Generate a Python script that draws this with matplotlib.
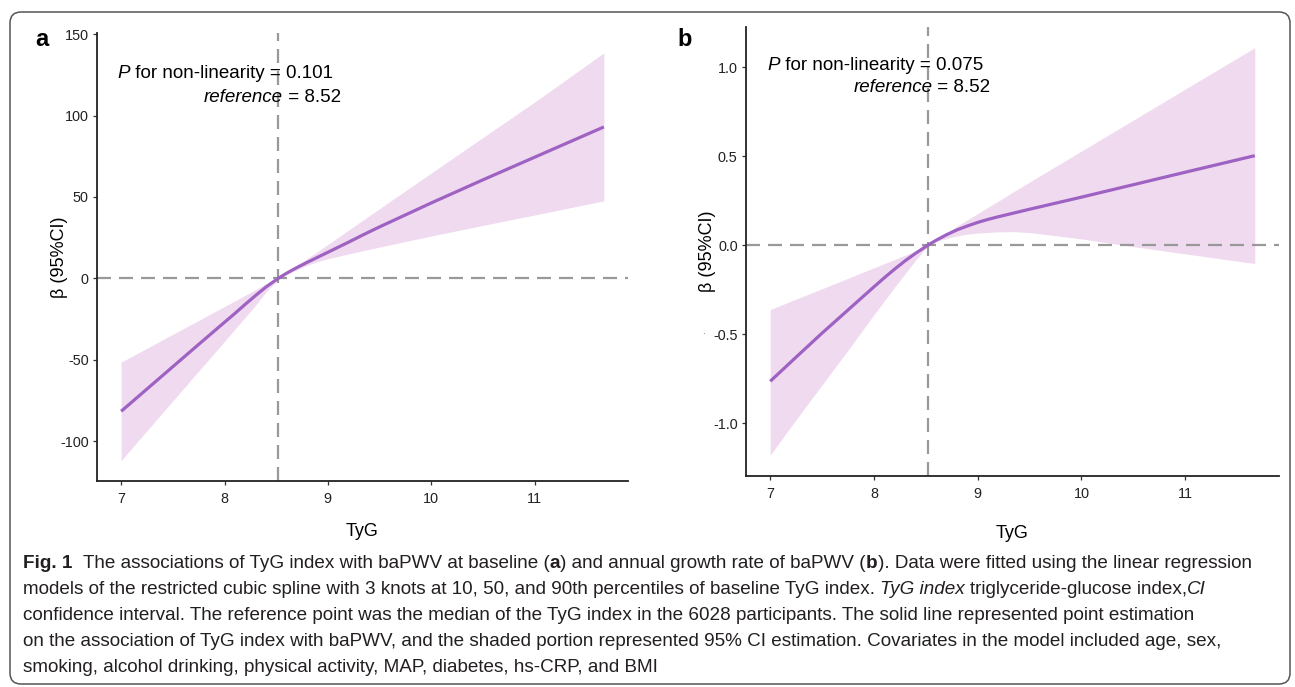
import matplotlib
matplotlib.use("Agg")
import matplotlib.pyplot as plt
from matplotlib.patches import FancyBboxPatch
from matplotlib.transforms import IdentityTransform
from matplotlib.font_manager import FontProperties

# ---------------- data ----------------
tyg = [7.0, 7.25, 7.5, 7.75, 8.0, 8.1, 8.2, 8.3, 8.4, 8.52, 8.6, 8.7, 8.8, 8.9, 9.0, 9.1, 9.2, 9.35, 9.5,
       10.0, 10.5, 11.0, 11.67]

a_beta = [-81.7, -68.0, -54.3, -40.6, -27.0, -21.6, -16.0, -10.6, -5.4, 0.0, 3.1, 6.6, 9.8, 12.9, 16.0, 19.1,
          22.2, 27.0, 31.6, 46.3, 60.5, 74.4, 93.0]
a_upper = [-51.5, -43.0, -34.4, -25.9, -17.3, -13.9, -10.4, -7.0, -3.4, 0.6, 4.0, 8.0, 12.2, 16.4, 20.8, 25.2,
           29.6, 36.2, 42.8, 64.7, 86.5, 108.3, 138.5]
a_lower = [-112.0, -93.6, -75.3, -57.0, -38.7, -31.3, -24.0, -16.6, -8.5, -0.6, 2.3, 5.3, 8.0, 10.3, 12.0, 13.5,
           15.0, 17.1, 19.2, 26.0, 32.5, 38.9, 47.6]

b_beta = [-0.765, -0.629, -0.494, -0.364, -0.234, -0.183, -0.134, -0.088, -0.046, 0.0, 0.028, 0.059, 0.086,
          0.108, 0.128, 0.145, 0.16, 0.181, 0.202, 0.27, 0.34, 0.41, 0.503]
b_upper = [-0.362, -0.303, -0.245, -0.186, -0.127, -0.104, -0.08, -0.057, -0.033, 0.003, 0.033, 0.07, 0.107,
           0.142, 0.178, 0.213, 0.248, 0.302, 0.355, 0.529, 0.703, 0.877, 1.11]
b_lower = [-1.18, -0.98, -0.785, -0.59, -0.39, -0.313, -0.235, -0.16, -0.085, -0.003, 0.02, 0.038, 0.052,
           0.062, 0.068, 0.072, 0.075, 0.076, 0.071, 0.035, -0.008, -0.049, -0.103]

reference = 8.52
p_values = ["0.101", "0.075"]
x_ticks = [7, 8, 9, 10, 11]
a_yticks = [-100, -50, 0, 50, 100, 150]
a_yticklabels = ["-100", "-50", "0", "50", "100", "150"]
b_yticks = [-1.0, -0.5, 0.0, 0.5, 1.0]
b_yticklabels = ["-1.0", "-0.5", "0.0", "0.5", "1.0"]

caption_lines = [
    [("Fig. 1", "bold"), ("  The associations of TyG index with baPWV at baseline (", "normal"), ("a", "bold"),
     (") and annual growth rate of baPWV (", "normal"), ("b", "bold"),
     ("). Data were fitted using the linear regression", "normal")],
    [("models of the restricted cubic spline with 3 knots at 10, 50, and 90th percentiles of baseline TyG index. ", "normal"),
     ("TyG index", "italic"), (" triglyceride-glucose index,", "normal"), ("CI", "italic")],
    [("confidence interval. The reference point was the median of the TyG index in the 6028 participants. The solid line represented point estimation", "normal")],
    [("on the association of TyG index with baPWV, and the shaded portion represented 95% CI estimation. Covariates in the model included age, sex,", "normal")],
    [("smoking, alcohol drinking, physical activity, MAP, diabetes, hs-CRP, and BMI", "normal")],
]

# ---------------- style ----------------
W, H = 1295, 687
LINE_C = "#9E62C2"
BAND_C = "#F0DAF0"
DASH_C = "#999999"
TXT_FONT = ["Liberation Sans", "DejaVu Sans"]
CAP_FONT = ["Liberation Sans Narrow", "Liberation Sans", "DejaVu Sans"]
plt.rcParams["font.family"] = TXT_FONT

fig = plt.figure(figsize=(W / 100, H / 100), dpi=100)


def px_axes(x0, y0, x1, y1):
    return fig.add_axes([x0 / W, 1 - y1 / H, (x1 - x0) / W, (y1 - y0) / H])


ax_a = px_axes(97, 32.5, 628, 481)
ax_b = px_axes(746, 27.3, 1279, 475.5)

panels = [
    (ax_a, a_beta, a_upper, a_lower, a_yticks, a_yticklabels, p_values[0], (6.96, 126.0), (7.80, 110.8),
     (60, 256), (362, 532), "a", (42, 40)),
    (ax_b, b_beta, b_upper, b_lower, b_yticks, b_yticklabels, p_values[1], (6.97, 1.009), (7.80, 0.885),
     (708, 251), (1013, 533), "b", (685, 40)),
]

dash = (0, (6.3, 3.6))
for (ax, beta, up, lo, yt, ytl, pv, t1, t2, ylab_px, xlab_px, letter, let_px) in panels:
    ax.fill_between(tyg, lo, up, color=BAND_C, lw=0, zorder=1)
    ax.plot(tyg, beta, color=LINE_C, lw=2.3, zorder=3, solid_capstyle="butt", solid_joinstyle="round")
    ax.margins(x=0.05, y=0.05)
    ax.axhline(0, color=DASH_C, lw=1.6, ls=dash, zorder=2)
    ax.axvline(reference, color=DASH_C, lw=1.6, ls=dash, zorder=2)
    for s in ["top", "right"]:
        ax.spines[s].set_visible(False)
    for s in ["left", "bottom"]:
        ax.spines[s].set_linewidth(1.3)
        ax.spines[s].set_color("#222222")
    ax.set_xticks(x_ticks)
    ax.set_xticklabels([str(v) for v in x_ticks])
    ax.set_yticks(yt)
    ax.set_yticklabels(ytl)
    ax.tick_params(axis="both", length=3, width=0.9, color="#333333", labelsize=10.4,
                   labelcolor="#222222", pad=3)
    ax.tick_params(axis="x", pad=5)
    pos = ax.get_position()
    ax.set_xlabel("TyG", fontsize=13, va="center")
    ax.xaxis.set_label_coords(0.5, (H - xlab_px[1] - pos.y0 * H) / (pos.height * H))
    ax.set_ylabel("\u03b2 (95%CI)", fontsize=13, va="center")
    ax.yaxis.set_label_coords((ylab_px[0] - pos.x0 * W) / (pos.width * W), 0.5)
    p_txt = ax.text(t1[0], t1[1], "P", fontsize=13.5, style="italic", ha="left", va="center", zorder=5)
    ax.annotate(" for non-linearity = " + pv, xy=(1, 0.5), xycoords=p_txt, fontsize=13.5,
                ha="left", va="center", zorder=5)
    r_txt = ax.text(t2[0], t2[1], "reference", fontsize=13.5, style="italic", ha="left", va="center", zorder=5)
    ax.annotate(" = 8.52", xy=(1, 0.5), xycoords=r_txt, fontsize=13.5,
                ha="left", va="center", zorder=5)
    fig.text(let_px[0] / W, 1 - let_px[1] / H, letter, fontsize=17, fontweight="bold",
             ha="center", va="center")

# stray dot next to -0.5 in panel b
fig.text(703 / W, 1 - 336 / H, ".", fontsize=7, color="#555555", ha="center", va="bottom")

# border
box = FancyBboxPatch((10, 3), 1280, 672, boxstyle="round,pad=0,rounding_size=11",
                     transform=IdentityTransform(), fill=False, ec="#555555", lw=1.1)
fig.add_artist(box)

# ---------------- caption ----------------
fig.canvas.draw()
renderer = fig.canvas.get_renderer()


def fprop(style, size):
    fp = FontProperties(family=CAP_FONT, size=size)
    if style == "bold":
        fp.set_weight("bold")
    elif style == "italic":
        fp.set_style("italic")
    return fp


def adv(s, style, size):
    fp = fprop(style, size)
    w1 = renderer.get_text_width_height_descent("." + s + ".", fp, ismath=False)[0]
    w0 = renderer.get_text_width_height_descent("..", fp, ismath=False)[0]
    return w1 - w0


def line_width(pieces, size):
    return sum(adv(t, st, size) for t, st in pieces)


base = 12.0
target = 1262 - 23
cap_size = base * target / line_width(caption_lines[0], base)

y_centers = [563, 589.5, 615.5, 641.5, 667.5]
for pieces, yc in zip(caption_lines, y_centers):
    x = 23.0
    for t, st in pieces:
        stripped = t.lstrip(" ")
        lead = len(t) - len(stripped)
        if lead:
            x += adv(" " * lead, st, cap_size)
        core = stripped.rstrip(" ")
        trail = len(stripped) - len(core)
        if core:
            fp = fprop(st, cap_size)
            fig.text(x / W, 1 - yc / H, core, fontproperties=fp, color="#231F20",
                     ha="left", va="center")
            x += adv(core, st, cap_size)
        if trail:
            x += adv(" " * trail, st, cap_size)

fig.savefig("out.png", dpi=100)
